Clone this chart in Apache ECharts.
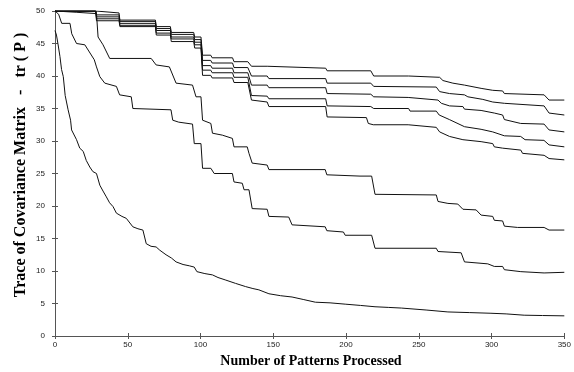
<!DOCTYPE html>
<html>
<head>
<meta charset="utf-8">
<script src="https://cdn.jsdelivr.net/npm/echarts@6/dist/echarts.min.js"></script>
<style>
  html, body { margin: 0; padding: 0; background: #fff; }
  #chart { width: 574px; height: 372px; }
</style>
</head>
<body>
<div id="chart"></div>
<script>
// axis ticks
const xTicks = [0, 50, 100, 150, 200, 250, 300, 350];
const yTicks = [0, 5, 10, 15, 20, 25, 30, 35, 40, 45, 50];

// top bundle of curves as [patterns, trace]
const curveT1 = [[0,50],[28,50],[28.5,49.7],[44,49.7],[44.6,48.6],[69,48.6],[69.6,47.6],[79.3,47.6],[79.9,46.7],[95.3,46.7],[96,46.0],[100.3,46.0],[101.4,43.2],[107,43.2],[108,42.8],[122,42.8],[123,42.2],[132.5,42.2],[135,41.5],[145.8,41.5],[147,41.2],[186,41.2],[187,40.8],[217,40.8],[219,40.0],[243,40.0],[244,39.8],[264.3,39.8],[266.6,39.3],[273.4,38.9],[281.4,38.6],[292.8,38.1],[300.8,37.8],[307.6,37.7],[308.8,37.3],[336.1,37.1],[339.5,36.3],[350,36.3]];
const curveT2 = [[0,50],[28,50],[28.5,49.4],[44,49.4],[44.6,48.4],[69,48.4],[69.6,47.3],[79.3,47.3],[79.9,46.4],[95.3,46.4],[96,45.6],[100.3,45.6],[101.4,42.4],[107,42.4],[108,42.0],[122,42.0],[123,41.3],[132.5,41.3],[135,40.0],[145.8,40.0],[147,39.6],[186,39.6],[187,38.9],[217,38.9],[219,38.4],[262,38.3],[264.3,37.6],[271.1,37.3],[281.4,37.1],[283.7,36.8],[294,36.4],[300.8,36.0],[308.8,35.8],[336.1,35.4],[339.5,34.3],[350,34.0]];
const curveT3 = [[0,50],[28,50],[28.5,49.1],[44,49.1],[44.6,48.1],[69,48.1],[69.6,47.0],[79.3,47.0],[79.9,46.0],[95.3,46.0],[96,45.2],[100.3,45.2],[101.4,41.6],[107,41.6],[108,41.2],[122,41.2],[123,40.5],[132.5,40.5],[135,38.6],[145.8,38.6],[147,38.2],[186,38.2],[187,37.3],[217,37.2],[219,36.8],[242.7,36.7],[243.8,36.4],[263.2,36.3],[265.5,35.8],[271.1,35.4],[280.3,35.3],[281.4,34.9],[292.8,34.7],[301.9,34.3],[307.6,34.0],[308.8,33.3],[320,32.7],[336.1,32.6],[339.5,31.7],[350,31.4]];
const curveT4 = [[0,50],[28,50],[28.5,48.8],[44,48.8],[44.6,47.8],[69,47.8],[69.6,46.6],[79.3,46.6],[79.9,45.7],[95.3,45.7],[96,44.8],[100.3,44.8],[101.4,40.9],[107,40.9],[108,40.5],[122,40.5],[123,39.8],[132.5,39.8],[135,37.0],[145.8,36.9],[147,36.5],[186,36.5],[187,35.4],[217,35.3],[219,35.0],[243,35.0],[244,34.6],[262,34.6],[264,34.0],[271,33.3],[281.4,32.2],[292.8,31.8],[300.8,31.4],[301.9,31.1],[308.8,30.8],[320,30.7],[323,30.2],[336,30.1],[339.5,29.4],[350,29.1]];
const curveT5 = [[0,50],[28,50],[28.5,48.5],[44,48.5],[44.6,47.6],[69,47.6],[69.6,46.3],[79.3,46.3],[79.9,45.3],[95.3,45.3],[96,44.3],[100.3,44.3],[101.4,40.1],[107,40.1],[108,39.7],[122,39.7],[123,39.0],[132.5,39.0],[135,36.3],[145.8,36.0],[147,35.3],[186,35.3],[187,33.7],[214,33.6],[215.3,32.7],[218.7,32.5],[242.7,32.5],[243.8,32.2],[262,32.1],[264.3,31.4],[271.1,30.7],[272.3,30.4],[280.3,30.2],[292.8,29.9],[300.8,29.6],[301.9,29.1],[307.6,28.9],[320.1,28.6],[321.3,28.1],[336.1,27.8],[339.5,27.3],[350,27.1]];

// lower curves
const curveM2 = [[0,50],[15,49.8],[28.5,49.6],[29.6,46.0],[33,44.8],[37.6,42.7],[66.1,42.7],[69.5,41.7],[78.6,41.4],[83.2,38.9],[94.5,38.6],[96.9,36.8],[100.3,36.8],[101.4,33.2],[107.1,32.7],[108.2,31.2],[115,30.9],[121.9,30.4],[123,29.1],[132.1,29.1],[133.3,28.1],[135.5,26.6],[145.8,26.3],[147,25.6],[185.7,25.6],[186.8,24.8],[209.6,24.6],[217.6,24.6],[219.9,21.8],[262,21.7],[263.2,20.7],[270,20.4],[276.8,20.3],[280.3,19.5],[289.4,19.4],[292.8,18.6],[300.8,18.4],[301.9,17.8],[307.6,17.7],[308.8,16.9],[317.9,16.7],[336.1,16.7],[339.5,16.3],[350,16.3]];
const curveM3 = [[0,50],[2.5,49.5],[4.6,48.1],[10.3,48.1],[11.5,46.5],[14.8,45.0],[20.5,44.8],[21.7,44.5],[27,42.5],[28.5,41.4],[30.8,39.9],[34.2,38.9],[42.2,38.4],[44.4,37.1],[52.4,36.8],[53.5,35.0],[79.7,34.8],[80.9,33.2],[85,32.9],[94.5,32.6],[95.7,29.6],[100.3,29.6],[101.4,25.8],[107.1,25.8],[109.4,25.0],[121.9,25.0],[123,23.7],[128.7,23.5],[129.9,22.5],[133.3,22.5],[135.5,19.6],[145.8,19.5],[147,18.4],[160.6,18.3],[162.9,17.1],[185.7,16.8],[186.8,16.2],[198.2,16.0],[199.4,15.5],[217.6,15.5],[219.9,13.5],[262,13.5],[263.2,13.0],[279.1,12.8],[281.4,11.4],[297.4,11.1],[301.9,10.7],[307.6,10.7],[308.8,10.2],[320.1,9.9],[336.1,9.7],[350,9.8]];
const curveL = [[0,47.0],[1,46.3],[2,45],[3.4,43],[4.5,41],[5.7,39.9],[7,37],[9,34.8],[10.7,33.2],[11.4,31.7],[14.8,30.2],[17,28.9],[19.4,28.4],[21.5,27],[23.9,26],[26,25.3],[28.5,25],[30.8,23.2],[33,22.3],[35.3,21.4],[37.5,20.5],[39.9,19.9],[42.2,18.9],[46,18.4],[49,18.1],[53.5,16.8],[57,16.5],[60.4,16.3],[62.7,14.2],[66,13.8],[69.5,13.7],[72,13.2],[76.3,12.5],[80,12.0],[83.2,11.4],[88,11.0],[92.3,10.8],[95.7,10.6],[97.5,9.9],[103,9.6],[108.2,9.4],[112,9.0],[117.4,8.6],[124,8.1],[131,7.6],[136,7.3],[140.1,7.1],[147,6.5],[155,6.2],[162.9,6.0],[171,5.6],[178.9,5.2],[189,5.1],[199.4,4.9],[210,4.7],[219.9,4.5],[229,4.4],[238,4.3],[255,4.0],[270,3.7],[285,3.6],[299.6,3.5],[310,3.4],[322.4,3.2],[335,3.15],[350,3.1]];

const curves = [curveT1, curveT2, curveT3, curveT4, curveT5, curveM2, curveM3, curveL];

const xTitle = 'Number of Patterns Processed';
const yTitle = 'Trace of Covariance Matrix   -   tr ( P )';

let chart = echarts.init(document.getElementById('chart'), null, {renderer: 'canvas'});

// shared look of the axes
const axisLine = {show: true, lineStyle: {color: '#555', width: 1}};
const axisTick = {show: true, inside: true, length: 3, lineStyle: {color: '#555'}};
const tickLabel = {color: '#222', fontSize: 8, fontFamily: 'Liberation Sans'};

chart.setOption({
    animation: false,
    grid: {left: 55, right: 7, top: 11, bottom: 36},
    xAxis: [
        {
            type: 'value', min: xTicks[0], max: xTicks[xTicks.length - 1], interval: 50,
            axisLine, axisTick, splitLine: {show: false},
            axisLabel: Object.assign({margin: 5}, tickLabel)
        },
        {
            type: 'value', position: 'top', min: xTicks[0], max: xTicks[xTicks.length - 1], interval: 50,
            axisLine, axisTick, splitLine: {show: false}, axisLabel: {show: false}
        }
    ],
    yAxis: [
        {
            type: 'value', min: yTicks[0], max: yTicks[yTicks.length - 1], interval: 5,
            axisLine, axisTick, splitLine: {show: false},
            axisLabel: Object.assign({margin: 10}, tickLabel)
        },
        {
            type: 'value', position: 'right', min: yTicks[0], max: yTicks[yTicks.length - 1], interval: 5,
            axisLine, axisTick, splitLine: {show: false}, axisLabel: {show: false}
        }
    ],
    graphic: [
        {
            type: 'text', x: 311, y: 361,
            style: {
                text: xTitle, fill: '#000', font: 'bold 14px "Liberation Serif"',
                textAlign: 'center', textVerticalAlign: 'middle'
            }
        },
        {
            type: 'text', x: 21, y: 165, rotation: Math.PI / 2,
            style: {
                text: yTitle, fill: '#000', font: 'bold 16px "Liberation Serif"',
                textAlign: 'center', textVerticalAlign: 'middle'
            }
        }
    ],
    series: curves.map(c => ({
        type: 'line',
        data: c,
        showSymbol: false,
        smooth: false,
        lineStyle: {color: '#111', width: 1},
        emphasis: {disabled: true}
    }))
});
</script>
</body>
</html>
